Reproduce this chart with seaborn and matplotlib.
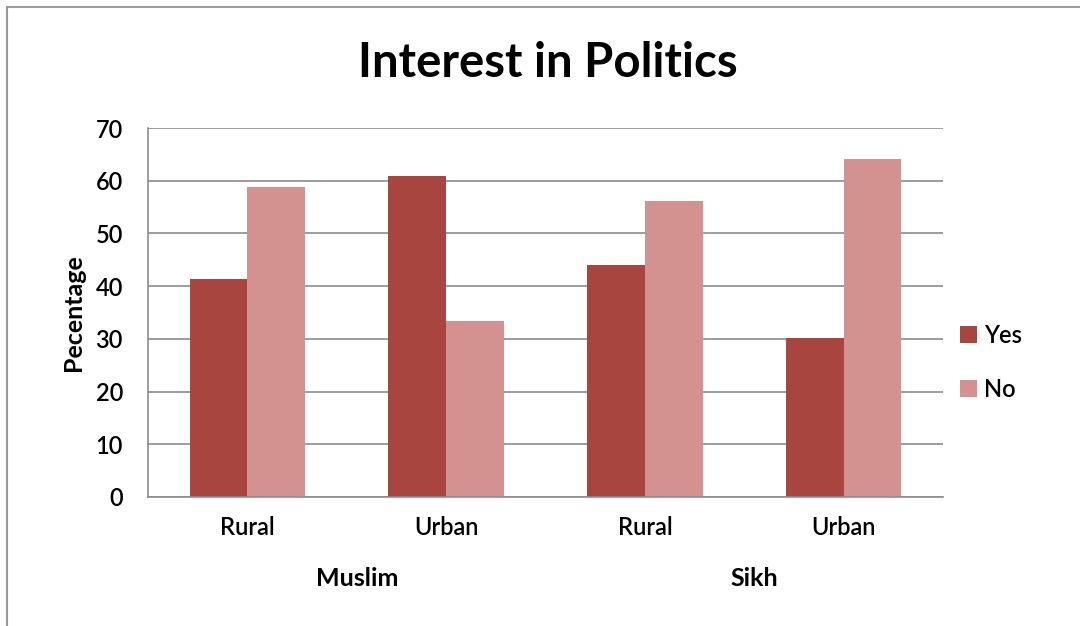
import pandas as pd
import numpy as np
import seaborn as sns
import matplotlib.pyplot as plt
from matplotlib.lines import Line2D

# datos
grupos = ['Muslim', 'Muslim', 'Sikh', 'Sikh']
zonas = ['Rural', 'Urban', 'Rural', 'Urban']
si = [41.4, 60.8, 44.0, 30.1]
no = [58.9, 33.4, 56.2, 64.1]
respuestas = ['Yes', 'No']
colores = ['#A8453F', '#D39290']

cats = [f'{g}-{z}' for g, z in zip(grupos, zonas)]
df = pd.DataFrame({
    'cat': cats * 2,
    'resp': ['Yes'] * 4 + ['No'] * 4,
    'valor': si + no,
})

sns.set_style('white')
plt.rcParams['font.family'] = ['Lato', 'DejaVu Sans']
plt.rcParams['text.color'] = 'black'
plt.rcParams['xtick.labelcolor'] = 'black'
plt.rcParams['ytick.labelcolor'] = 'black'
plt.rcParams['axes.labelcolor'] = 'black'

fig = plt.figure(figsize=(10.8, 6.26), dpi=100)
ax = fig.add_axes([148 / 1080, 1 - 497 / 626, 795 / 1080, 369 / 626])

sns.barplot(data=df, x='cat', y='valor', hue='resp', order=cats, hue_order=respuestas,
            palette=colores, width=0.58, gap=0, saturation=1, linewidth=0,
            ax=ax, legend=True)

ax.set_ylim(0, 70)
ax.set_xlim(-0.5, 3.5)
ax.set_yticks(range(0, 71, 10))
ax.yaxis.grid(True, color='#8c8c8c', linewidth=1.2)
ax.set_axisbelow(True)
for s in ['top', 'right']:
    ax.spines[s].set_visible(False)
for s in ['left', 'bottom']:
    ax.spines[s].set_color('#8c8c8c')
    ax.spines[s].set_linewidth(1.2)
ax.tick_params(axis='y', length=8, width=1.2, color='#8c8c8c', labelsize=17, pad=10,
               labelcolor='black')
ax.tick_params(axis='x', length=0, labelsize=17, pad=14, labelcolor='black')
ax.set_xticks(range(4))
ax.set_xticklabels(zonas)
for t in ax.get_xticklabels() + ax.get_yticklabels():
    t.set_fontweight('semibold')
ax.set_xlabel('')
ax.set_ylabel('Pecentage', fontsize=18, fontweight='bold', labelpad=8, color='black')

# etiquetas de grupo
for i, g in enumerate(['Muslim', 'Sikh']):
    ax.text(2 * i + 0.55, -0.22, g, transform=ax.get_xaxis_transform(),
            ha='center', va='center', fontsize=18, fontweight='bold', color='black')

fig.text(548 / 1080, 1 - 63 / 626, 'Interest in Politics', ha='center', va='center',
         fontsize=34, fontweight='bold', color='black')

leg = ax.legend(loc='center left', bbox_to_anchor=(0.995, 0.365), frameon=False,
                fontsize=17, handlelength=0.7, handleheight=0.7, handletextpad=0.3,
                labelspacing=1.3)
for t in leg.get_texts():
    t.set_fontweight('semibold')
    t.set_color('black')

# borde del grafico
fig.add_artist(Line2D([7 / 1080, 7 / 1080], [0, 1 - 7 / 626], color='#9a9a9a', linewidth=1.5))
fig.add_artist(Line2D([7 / 1080, 1], [1 - 7 / 626, 1 - 7 / 626], color='#9a9a9a', linewidth=1.5))

fig.savefig('out.png', dpi=100)
